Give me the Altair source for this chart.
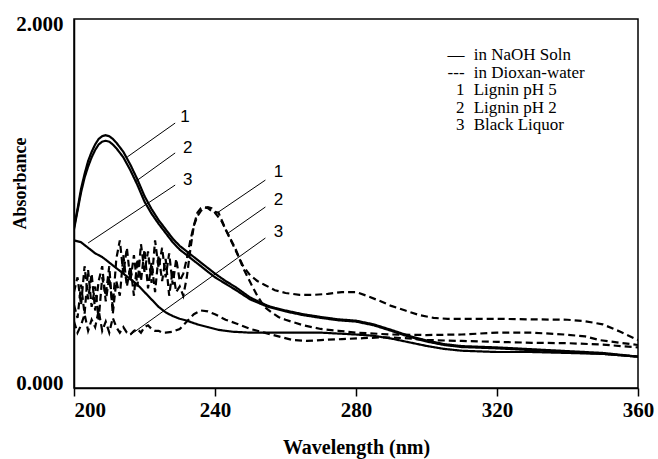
import altair as alt
import pandas as pd

# ---------------- data ----------------
# Solid curves: in NaOH solution
naoh_ph5_wl = [200, 201, 202, 203, 204, 205, 206, 207, 208, 209, 210, 211, 212, 214, 216, 218, 220, 222, 224, 226,
               228, 230, 232, 234, 236, 238, 240, 243, 246, 250, 255, 260, 265, 270, 275, 280, 285, 290, 295, 300,
               305, 310, 320, 330, 340, 350, 360]
naoh_ph5_abs = [0.87, 0.97, 1.08, 1.16, 1.23, 1.28, 1.32, 1.35, 1.365, 1.37, 1.365, 1.35, 1.33, 1.28, 1.21, 1.13,
                1.04, 0.97, 0.91, 0.86, 0.81, 0.77, 0.74, 0.71, 0.68, 0.65, 0.62, 0.58, 0.545, 0.49, 0.445, 0.42,
                0.40, 0.385, 0.372, 0.365, 0.345, 0.315, 0.283, 0.257, 0.238, 0.227, 0.22, 0.21, 0.20, 0.19, 0.17]

naoh_ph2_wl = naoh_ph5_wl
naoh_ph2_abs = [0.86, 0.96, 1.06, 1.14, 1.20, 1.25, 1.29, 1.32, 1.335, 1.34, 1.335, 1.32, 1.30, 1.25, 1.18, 1.10,
                1.01, 0.945, 0.89, 0.84, 0.79, 0.75, 0.72, 0.69, 0.66, 0.63, 0.60, 0.565, 0.53, 0.48, 0.44, 0.415,
                0.395, 0.38, 0.367, 0.36, 0.34, 0.31, 0.278, 0.252, 0.233, 0.222, 0.215, 0.205, 0.195, 0.185, 0.17]

naoh_bl_wl = [200, 202, 204, 206, 208, 210, 212, 214, 216, 218, 220, 222, 224, 226, 228, 230, 232, 235, 238, 241,
              245, 250, 255, 260, 270, 280, 285, 290, 295, 300, 305, 310, 320, 330, 340, 350, 360]
naoh_bl_abs = [0.80, 0.79, 0.76, 0.73, 0.71, 0.68, 0.65, 0.62, 0.59, 0.56, 0.52, 0.48, 0.44, 0.41, 0.39, 0.375,
               0.365, 0.345, 0.33, 0.315, 0.305, 0.30, 0.30, 0.30, 0.30, 0.29, 0.283, 0.268, 0.248, 0.228, 0.212,
               0.202, 0.195, 0.195, 0.19, 0.185, 0.17]

# Dashed curves: in dioxan-water
diox_ph5_wl = [200, 201, 202, 203, 204, 205, 206, 207, 208, 209, 210, 211, 212, 213, 214, 215, 216, 217, 218, 219,
               220, 221, 222, 223, 224, 225, 226, 227, 228, 229, 230, 231, 232, 233, 234, 235, 236, 237, 238, 239,
               240, 242, 244, 246, 248, 250, 252, 254, 257, 260, 264, 268, 272, 276, 280, 283, 287, 290, 294, 298,
               302, 306, 320, 330, 340, 345, 350, 355, 360]
diox_ph5_abs = [0.52, 0.60, 0.45, 0.66, 0.48, 0.62, 0.42, 0.58, 0.66, 0.47, 0.60, 0.44, 0.70, 0.80, 0.62, 0.76,
                0.58, 0.72, 0.55, 0.78, 0.63, 0.74, 0.57, 0.80, 0.65, 0.76, 0.60, 0.73, 0.56, 0.70, 0.58, 0.62,
                0.70, 0.80, 0.88, 0.93, 0.96, 0.975, 0.98, 0.975, 0.95, 0.90, 0.82, 0.74, 0.66, 0.61, 0.58, 0.56,
                0.53, 0.515, 0.505, 0.505, 0.51, 0.52, 0.52, 0.50, 0.47, 0.445, 0.42, 0.395, 0.38, 0.375, 0.375,
                0.372, 0.37, 0.362, 0.345, 0.305, 0.26]

diox_ph2_wl = [200, 201, 202, 203, 204, 205, 206, 207, 208, 209, 210, 211, 212, 213, 214, 215, 216, 217, 218, 219,
               220, 221, 222, 223, 224, 225, 226, 227, 228, 229, 230, 231, 232, 233, 234, 235, 236, 237, 238, 239,
               241, 243, 245.7, 248, 250.6, 252, 254, 256, 258, 260, 265, 270, 275, 280, 290, 300, 310, 320, 330,
               339, 345, 349, 355, 360]
diox_ph2_abs = [0.45, 0.38, 0.56, 0.40, 0.64, 0.44, 0.55, 0.37, 0.60, 0.50, 0.66, 0.40, 0.58, 0.50, 0.72, 0.55,
                0.66, 0.50, 0.70, 0.58, 0.75, 0.54, 0.68, 0.52, 0.72, 0.58, 0.70, 0.50, 0.64, 0.52, 0.55, 0.50,
                0.60, 0.75, 0.88, 0.95, 0.975, 0.98, 0.975, 0.96, 0.95, 0.86, 0.76, 0.65, 0.55, 0.50, 0.44, 0.41,
                0.385, 0.37, 0.34, 0.32, 0.31, 0.30, 0.29, 0.287, 0.29, 0.30, 0.30, 0.29, 0.28, 0.26, 0.245, 0.233]

diox_bl_wl = [200, 201, 202, 203, 204, 205, 206, 207, 208, 209, 210, 211, 212, 213, 214, 215, 216, 217, 218, 219,
              220, 221, 222, 223, 224, 225, 226, 228, 230, 232, 234, 236, 238, 240, 243, 246, 250, 254, 258, 262,
              266, 270, 276, 282, 288, 294, 300, 310, 320, 330, 340, 350, 360]
diox_bl_abs = [0.36, 0.30, 0.34, 0.40, 0.31, 0.37, 0.33, 0.42, 0.31, 0.36, 0.30, 0.38, 0.33, 0.30, 0.33, 0.30,
               0.29, 0.31, 0.32, 0.30, 0.33, 0.34, 0.32, 0.31, 0.31, 0.30, 0.30, 0.305, 0.32, 0.36, 0.40, 0.42,
               0.415, 0.40, 0.37, 0.35, 0.32, 0.30, 0.28, 0.26, 0.255, 0.26, 0.265, 0.27, 0.275, 0.27, 0.26,
               0.255, 0.25, 0.245, 0.243, 0.235, 0.22]

series_names = ["NaOH pH 5", "NaOH pH 2", "NaOH BL", "Dioxan pH 5", "Dioxan pH 2", "Dioxan BL"]
series_media = ["NaOH", "NaOH", "NaOH", "Dioxan", "Dioxan", "Dioxan"]
series_wl = [naoh_ph5_wl, naoh_ph2_wl, naoh_bl_wl, diox_ph5_wl, diox_ph2_wl, diox_bl_wl]
series_abs = [naoh_ph5_abs, naoh_ph2_abs, naoh_bl_abs, diox_ph5_abs, diox_ph2_abs, diox_bl_abs]

# Curve-number labels and their leader lines (data units)
label_text = ["1", "2", "3", "1", "2", "3"]
label_wl = [231.5, 232.3, 232.3, 258.0, 258.0, 258.0]
label_abs = [1.469, 1.301, 1.127, 1.171, 1.019, 0.846]
lead_wl_from = [228.7, 228.7, 228.7, 254.3, 254.3, 254.3]
lead_abs_from = [1.436, 1.274, 1.100, 1.127, 0.981, 0.813]
lead_wl_to = [215.1, 217.3, 204.0, 240.6, 243.75, 215.9]
lead_abs_to = [1.252, 1.117, 0.786, 0.949, 0.840, 0.287]

# Text legend
legend_symbols = ["\u2014", "---", "1", "2", "3"]
legend_texts = ["in NaOH Soln", "in Dioxan-water", "Lignin pH 5", "Lignin pH 2", "Black Liquor"]
legend_abs = [1.805, 1.710, 1.615, 1.520, 1.425]

x_ticks = [200, 240, 280, 320, 360]
y_ticks = [0, 2]

# ---------------- build tables ----------------
rows = []
for name, med, wl, ab in zip(series_names, series_media, series_wl, series_abs):
    for w, a in zip(wl, ab):
        rows.append({"series": name, "medium": med, "wavelength": w, "absorbance": a})
df = pd.DataFrame(rows)

df_lab = pd.DataFrame({"t": label_text, "x": label_wl, "y": label_abs})
df_lead = pd.DataFrame({"x": lead_wl_from, "y": lead_abs_from, "x2": lead_wl_to, "y2": lead_abs_to})
df_leg = pd.DataFrame({"sym": legend_symbols, "txt": legend_texts, "y": legend_abs,
                       "xs": [310.8] * 5, "xt": [313.4] * 5})

xscale = alt.Scale(domain=[200, 360], nice=False, zero=False)
yscale = alt.Scale(domain=[0, 2], nice=False)

SERIF = "Liberation Serif"

xaxis = alt.Axis(values=x_ticks, title="Wavelength (nm)", grid=False,
                 labelFont=SERIF, labelFontSize=21, labelFontWeight="bold", labelColor="black",
                 labelAlign={"condition": {"test": "datum.value === 200", "value": "left"}, "value": "center"},
                 labelPadding=3, tickSize=8, tickColor="black", tickWidth=1.5,
                 domainColor="black", domainWidth=1.5,
                 titleFont=SERIF, titleFontSize=20, titleFontWeight="bold", titleColor="black",
                 titleY=59, titleBaseline="middle")
yaxis = alt.Axis(values=y_ticks, format=".3f", title="Absorbance", grid=False, ticks=False,
                 labelFont=SERIF, labelFontSize=21, labelFontWeight="bold", labelColor="black",
                 labelPadding=11,
                 labelOffset={"condition": {"test": "datum.value === 2", "value": 5}, "value": -5},
                 domainColor="black", domainWidth=1.5,
                 titleFont=SERIF, titleFontSize=18, titleFontWeight="bold", titleColor="black",
                 titleX=-54, titleY=164, titleBaseline="middle", titleAngle=-90)

lines = alt.Chart(df).mark_line(color="black", clip=True).encode(
    x=alt.X("wavelength:Q", scale=xscale, axis=xaxis),
    y=alt.Y("absorbance:Q", scale=yscale, axis=yaxis),
    detail="series:N",
    strokeDash=alt.StrokeDash("medium:N", scale=alt.Scale(domain=["NaOH", "Dioxan"], range=[[1, 0], [7, 4]]),
                              legend=None),
    size=alt.Size("series:N", scale=alt.Scale(domain=series_names, range=[2.2, 2.2, 3.0, 1.6, 1.6, 1.8]),
                  legend=None),
    order="wavelength:Q",
)

leads = alt.Chart(df_lead).mark_rule(color="black", strokeWidth=1).encode(
    x="x:Q", y="y:Q", x2="x2:Q", y2="y2:Q")

labels = alt.Chart(df_lab).mark_text(font="Liberation Sans", fontSize=17, color="black",
                                     align="center", baseline="middle").encode(
    x="x:Q", y="y:Q", text="t:N")

leg_sym = alt.Chart(df_leg).mark_text(font=SERIF, fontSize=17, color="black", align="right",
                                      baseline="middle").encode(x="xs:Q", y="y:Q", text="sym:N")
leg_txt = alt.Chart(df_leg).mark_text(font=SERIF, fontSize=17, color="black", align="left",
                                      baseline="middle").encode(x="xt:Q", y="y:Q", text="txt:N")

chart = alt.layer(lines, leads, labels, leg_sym, leg_txt).properties(
    width=564, height=369,
    autosize=alt.AutoSizeParams(type="none"),
    padding={"left": 74, "top": 19, "right": 20, "bottom": 71},
    background="white",
).configure_view(stroke="black", strokeWidth=1.5)

chart.save("out.html", embed_options={"renderer": "svg", "actions": False})
